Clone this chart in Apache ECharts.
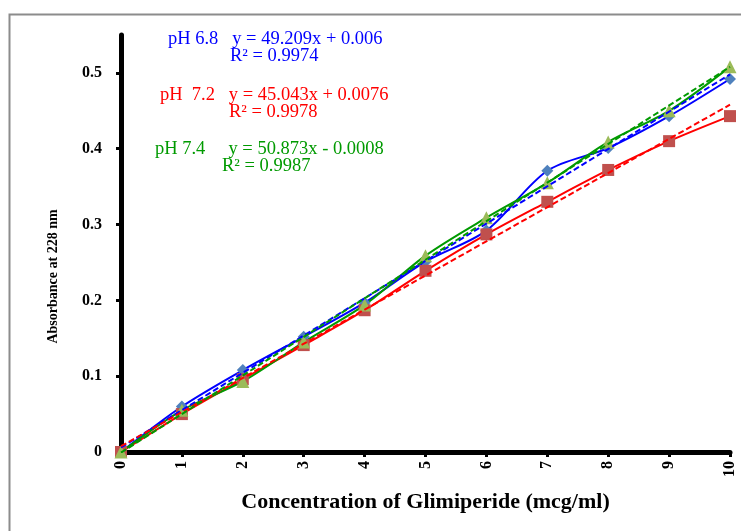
<!DOCTYPE html>
<html>
<head>
<meta charset="utf-8">
<script src="https://cdn.jsdelivr.net/npm/echarts@6/dist/echarts.min.js"></script>
<style>
html,body{margin:0;padding:0;background:#fff;}
#chart{width:741px;height:531px;}
</style>
</head>
<body>
<div id="chart"></div>
<script>
// Concentration (mcg/ml)
var concentrations = [0, 1, 2, 3, 4, 5, 6, 7, 8, 9, 10];
// Absorbance at 228 nm
var ph68 = [0, 0.060, 0.108, 0.152, 0.197, 0.251, 0.292, 0.371, 0.401, 0.443, 0.492];
var ph72 = [0, 0.050, 0.096, 0.141, 0.187, 0.239, 0.287, 0.330, 0.372, 0.410, 0.443];
var ph74 = [0, 0.055, 0.093, 0.145, 0.194, 0.259, 0.309, 0.355, 0.409, 0.450, 0.508];
// Linear trendline coefficients (absorbance per mcg/ml), from the printed equations /1000
var slopes = [0.049209, 0.045043, 0.050873];
var intercepts = [0.006, 0.0076, -0.0008];
var seriesNames = ['pH 6.8', 'pH 7.2', 'pH 7.4'];
var yTicks = [0, 0.1, 0.2, 0.3, 0.4, 0.5];
var xTicks = [0, 1, 2, 3, 4, 5, 6, 7, 8, 9, 10];
var eqTexts = [
  ['pH 6.8   y = 49.209x + 0.006', 'R\u00b2 = 0.9974'],
  ['pH  7.2   y = 45.043x + 0.0076', 'R\u00b2 = 0.9978'],
  ['pH 7.4     y = 50.873x - 0.0008', 'R\u00b2 = 0.9987']
];

var lineColors = ['#0000ff', '#ff0000', '#009a00'];
var markerColors = ['#4f81bd', '#c0504d', '#9bbb59'];
var symbols = ['diamond', 'rect', 'triangle'];
var symbolSizes = [12, 12, 13];
var values = [ph68, ph72, ph74];

function pairs(ys) { return concentrations.map(function (x, i) { return [x, ys[i]]; }); }

var series = [];
for (var s = 0; s < 3; s++) {
  series.push({
    name: seriesNames[s],
    type: 'line',
    smooth: 0.3,
    data: pairs(values[s]),
    symbol: symbols[s],
    symbolSize: symbolSizes[s],
    lineStyle: { color: lineColors[s], width: 2 },
    itemStyle: { color: markerColors[s] },
    z: 3
  });
}
for (var t = 0; t < 3; t++) {
  var x0 = concentrations[0], x1 = concentrations[concentrations.length - 1];
  series.push({
    name: seriesNames[t] + ' trend',
    type: 'line',
    data: [[x0, slopes[t] * x0 + intercepts[t]], [x1, slopes[t] * x1 + intercepts[t]]],
    symbol: 'none',
    lineStyle: { color: lineColors[t], width: 2, type: [6, 3] },
    z: 4,
    silent: true
  });
}

var serif = '"Liberation Serif", "Times New Roman", serif';
var eqPos = [[168, 30], [160, 86], [155, 140]];
var eqR2X = [230, 229, 222];
var graphics = [{
  type: 'rect', left: 7, top: 12,
  shape: { width: 800, height: 600 },
  style: { fill: 'none', stroke: '#8c8c8c', lineWidth: 2 }, z: -1
}];
for (var e = 0; e < 3; e++) {
  graphics.push({ type: 'text', left: eqPos[e][0], top: eqPos[e][1],
    style: { text: eqTexts[e][0], fill: lineColors[e], font: '18.5px ' + serif } });
  graphics.push({ type: 'text', left: eqR2X[e], top: eqPos[e][1] + 17,
    style: { text: eqTexts[e][1], fill: lineColors[e], font: '18.5px ' + serif } });
}

var chart = echarts.init(document.getElementById('chart'));
chart.setOption({
  animation: false,
  backgroundColor: '#fff',
  grid: { left: 121, right: 11, top: 35, bottom: 79, containLabel: false },
  xAxis: {
    type: 'value', min: 0, max: 10, interval: 1,
    name: 'Concentration of Glimiperide (mcg/ml)',
    nameLocation: 'middle', nameGap: 39,
    nameTextStyle: { fontFamily: serif, fontWeight: 'bold', fontSize: 22, color: '#000' },
    axisLine: { lineStyle: { color: '#000', width: 5 } },
    axisTick: { show: true, length: 5, lineStyle: { color: '#000', width: 3 }, customValues: xTicks },
    axisLabel: { rotate: 90, margin: 9, fontFamily: serif, fontWeight: 'bold', fontSize: 16, color: '#000', customValues: xTicks },
    splitLine: { show: false }
  },
  yAxis: {
    type: 'value', min: 0, max: 0.55, interval: 0.1,
    name: 'Absorbance at 228 nm',
    nameLocation: 'middle', nameGap: 61,
    nameTextStyle: { fontFamily: serif, fontWeight: 'bold', fontSize: 14, color: '#000', padding: [0, 66, 0, 0] },
    axisLine: { lineStyle: { color: '#000', width: 5 } },
    axisTick: { show: true, length: 5, lineStyle: { color: '#000', width: 3 }, customValues: yTicks },
    axisLabel: { margin: 19, fontFamily: serif, fontWeight: 'bold', fontSize: 16, color: '#000', customValues: yTicks },
    splitLine: { show: false }
  },
  graphic: graphics,
  series: series
});
</script>
</body>
</html>
